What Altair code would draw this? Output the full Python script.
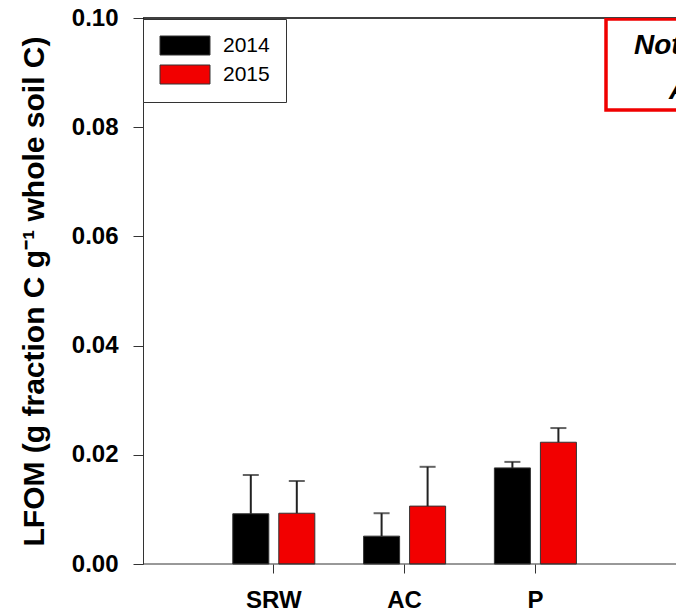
import altair as alt
import pandas as pd

categories = ["SRW", "AC", "P"]
years = ["2014", "2015"]
means_2014 = [0.0092, 0.0051, 0.0176]
means_2015 = [0.0093, 0.0106, 0.0223]
err_2014 = [0.0071, 0.0042, 0.0011]
err_2015 = [0.0059, 0.0072, 0.0026]
y_ticks = [0.0, 0.02, 0.04, 0.06, 0.08, 0.10]
colors = ["#000000", "#f20000"]

rows = []
for i, c in enumerate(categories):
    rows.append({"cat": c, "year": years[0], "mean": means_2014[i], "upper": means_2014[i] + err_2014[i]})
    rows.append({"cat": c, "year": years[1], "mean": means_2015[i], "upper": means_2015[i] + err_2015[i]})
df = pd.DataFrame(rows)

FONT = "Liberation Sans"

x_enc = alt.X(
    "cat:N",
    sort=categories,
    scale=alt.Scale(domain=categories, range=[0, 523.2], paddingInner=0, paddingOuter=0.5),
    axis=alt.Axis(
        title=None, labelAngle=0, labelFont=FONT, labelFontSize=24, labelFontWeight="bold",
        labelColor="black", tickSize=9, tickColor="#333", domain=False, labelPadding=15,
    ),
)
xo_enc = alt.XOffset(
    "year:N", sort=years,
    scale=alt.Scale(domain=years, paddingInner=0.217, paddingOuter=0.53),
)
y_scale = alt.Scale(domain=[0, 0.1], nice=False)

base = alt.Chart(df)

bars = base.mark_bar(stroke="#333", strokeWidth=1).encode(
    x=x_enc,
    xOffset=xo_enc,
    y=alt.Y(
        "mean:Q", scale=y_scale,
        axis=alt.Axis(
            title="LFOM (g fraction C g\u207b\u00b9 whole soil C)",
            titleFont=FONT, titleFontSize=30, titleFontWeight="bold", titleColor="black",
            titlePadding=22,
            values=y_ticks, format=".2f", grid=False,
            labelFont=FONT, labelFontSize=24, labelFontWeight="bold", labelColor="black",
            labelPadding=15, tickSize=10, tickColor="#333", domainColor="#333",
        ),
    ),
    color=alt.Color(
        "year:N", sort=years,
        scale=alt.Scale(domain=years, range=colors),
        legend=alt.Legend(
            title=None, orient="none", legendX=0, legendY=1,
            symbolType="M-1,-1H4.263V1H-1Z", symbolSize=361,
            symbolStrokeColor="#333", symbolStrokeWidth=1, symbolOpacity=1,
            labelFont=FONT, labelFontSize=21, labelColor="black", labelOffset=43,
            labelExpr="datum.label + ' '",
            strokeColor="#333", fillColor="white", padding=16, rowPadding=6,
        ),
    ),
)

err = base.mark_rule(color="#222", strokeWidth=2).encode(
    x=x_enc, xOffset=xo_enc, y=alt.Y("mean:Q", scale=y_scale), y2="upper:Q"
)
caps = base.mark_tick(color="#222", thickness=2, size=16).encode(
    x=x_enc, xOffset=xo_enc, y=alt.Y("upper:Q", scale=y_scale)
)

one = alt.Data(values=[{"a": 1}])
zero_rule = alt.Chart(one).mark_rule(color="#333", strokeWidth=1).encode(y=alt.datum(0.0))
top_rule = alt.Chart(one).mark_rule(color="black", strokeWidth=1.5).encode(y=alt.datum(0.1))

note_box = alt.Chart(one).mark_rect(
    fill="white", stroke="#f00000", strokeWidth=3.5, clip=True
).encode(x=alt.value(463), x2=alt.value(620), y=alt.value(1), y2=alt.value(92))
note_text1 = alt.Chart(one).mark_text(
    text="Note:", align="left", baseline="middle", font=FONT, fontSize=28,
    fontStyle="italic", fontWeight="bold", color="black", clip=True
).encode(x=alt.value(491), y=alt.value(28))
note_text2 = alt.Chart(one).mark_text(
    text="A", align="left", baseline="middle", font=FONT, fontSize=28,
    fontStyle="italic", fontWeight="bold", color="black", clip=True
).encode(x=alt.value(526), y=alt.value(73))

chart = alt.layer(
    bars, err, caps, zero_rule, top_rule, note_box, note_text1, note_text2
).properties(
    width=533, height=546,
    autosize=alt.AutoSizeParams(type="none"),
    padding={"left": 143, "top": 18, "right": 0, "bottom": 49},
    background="white",
).configure_view(stroke=None)

chart.save("out.html", embed_options={"renderer": "svg", "actions": False})
